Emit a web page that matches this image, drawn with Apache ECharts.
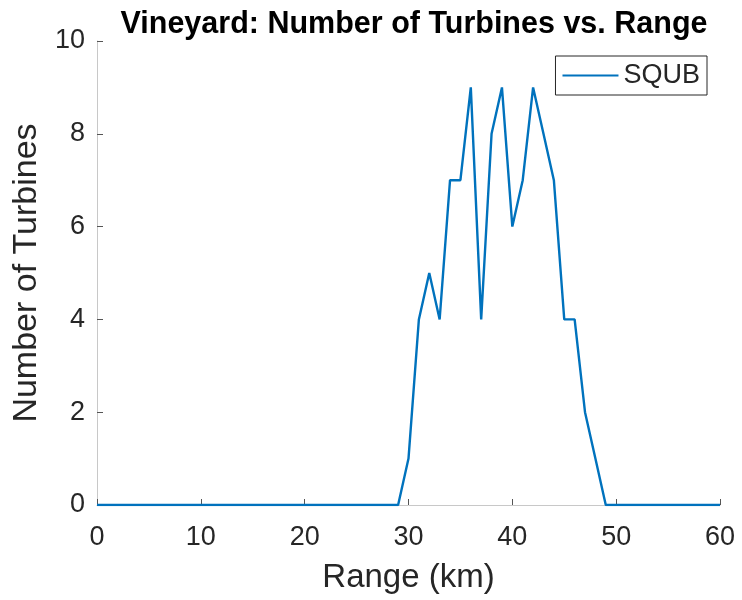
<!DOCTYPE html>
<html>
<head>
<meta charset="utf-8">
<script src="https://cdn.jsdelivr.net/npm/echarts@6/dist/echarts.min.js"></script>
<style>
  html, body { margin: 0; padding: 0; background: #fff; }
  #chart { width: 742px; height: 600px; }
</style>
</head>
<body>
<div id="chart"></div>
<script>
// Range bins (km) and turbine counts per bin
const rangeKm = [];
for (let r = 0; r <= 60; r++) rangeKm.push(r);
const turbineCounts = [
  0, 0, 0, 0, 0, 0, 0, 0, 0, 0,   // 0-9
  0, 0, 0, 0, 0, 0, 0, 0, 0, 0,   // 10-19
  0, 0, 0, 0, 0, 0, 0, 0, 0, 0,   // 20-29
  1, 4, 5, 4, 7, 7, 9, 4, 8, 9,   // 30-39
  6, 7, 9, 8, 7, 4, 4, 2, 1, 0,   // 40-49
  0, 0, 0, 0, 0, 0, 0, 0, 0, 0,   // 50-59
  0                               // 60
];
const xTicks = [0, 10, 20, 30, 40, 50, 60];
const yTicks = [0, 2, 4, 6, 8, 10];
const seriesName = 'SQUB';

const font = 'Liberation Sans, Arial, Helvetica, sans-serif';
const axisGray = '#c8c8c8';
const textGray = '#262626';

const chart = echarts.init(document.getElementById('chart'), null, { renderer: 'canvas' });
chart.setOption({
  animation: false,
  backgroundColor: '#ffffff',
  title: {
    text: 'Vineyard: Number of Turbines vs. Range',
    left: 409, top: 4, textAlign: 'center',
    textStyle: { fontFamily: font, fontSize: 30.5, fontWeight: 'bold', color: '#000' }
  },
  legend: {
    data: [seriesName],
    right: 35, top: 56,
    orient: 'vertical',
    backgroundColor: '#fff',
    borderColor: '#262626', borderWidth: 1, borderRadius: 0,
    padding: [6, 7, 6, 7],
    itemWidth: 56, itemHeight: 2, itemGap: 0,
    icon: 'rect',
    textStyle: { fontFamily: font, fontSize: 27, color: textGray, padding: [0, 0, 0, 0] }
  },
  grid: { left: 97, right: 22, top: 41, bottom: 95, containLabel: false },
  xAxis: {
    type: 'value', min: 0, max: 60, interval: 10,
    name: 'Range (km)', nameLocation: 'middle', nameGap: 56,
    nameTextStyle: { fontFamily: font, fontSize: 33, color: textGray },
    axisLine: { show: true, lineStyle: { color: axisGray, width: 1 } },
    axisTick: { show: true, inside: true, length: 6, lineStyle: { color: '#555' } },
    axisLabel: { fontFamily: font, fontSize: 27, color: textGray, margin: 19,
      formatter: v => xTicks.includes(v) ? String(v) : '' },
    splitLine: { show: false }
  },
  yAxis: {
    type: 'value', min: 0, max: 10, interval: 2,
    name: 'Number of Turbines', nameLocation: 'middle', nameGap: 50, nameRotate: 90,
    nameTextStyle: { fontFamily: font, fontSize: 34, color: textGray },
    axisLine: { show: true, lineStyle: { color: axisGray, width: 1 } },
    axisTick: { show: true, inside: true, length: 6, lineStyle: { color: '#555' } },
    axisLabel: { fontFamily: font, fontSize: 27, color: textGray, margin: 12,
      formatter: v => yTicks.includes(v) ? String(v) : '' },
    splitLine: { show: false }
  },
  series: [{
    name: seriesName,
    type: 'line',
    data: rangeKm.map((r, i) => [r, turbineCounts[i]]),
    showSymbol: false,
    symbol: 'none',
    color: '#0072BD',
    lineStyle: { color: '#0072BD', width: 2.4 }
  }]
});
</script>
</body>
</html>
